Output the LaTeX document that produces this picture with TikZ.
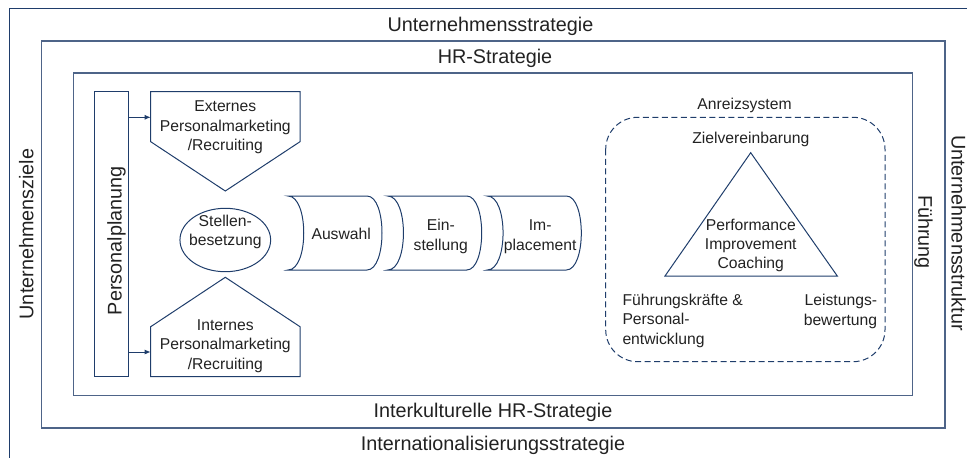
\documentclass[tikz,border=0pt]{standalone}
\usepackage{fontspec}
\setmainfont{Liberation Sans}
\usetikzlibrary{arrows.meta,shapes.geometric}
\definecolor{navy}{HTML}{1F3D6B}
\definecolor{framec}{HTML}{4E6488}
\definecolor{txt}{HTML}{222222}
\newcommand\fBigX{\fontsize{19.8}{24}\selectfont}
\newcommand\fSmallX{\fontsize{15.7}{19.4}\selectfont}
\begin{document}
\begin{tikzpicture}[x=1pt,y=-1pt,
  lbl/.style={inner sep=0pt, text=txt, align=center},
  big/.style={lbl, font=\fBigX},
  sm/.style={lbl, font=\fSmallX},
  shp/.style={draw=navy, line width=1pt},
  frm/.style={draw=framec, line width=1.4pt},
  arr/.style={draw=navy, line width=1pt, -{Latex[length=6pt,width=5pt]}},
  dsh/.style={draw=navy, line width=1pt, dash pattern=on 6pt off 3.5pt, rounded corners=32pt}]
\useasboundingbox (0,0) rectangle (967,458);
% frames
\draw[draw=navy, line width=1pt] (9,470) -- (9,8) -- (980,8);
\draw[frm] (41.5,41) rectangle (945,428);
\draw[frm] (73.3,73) rectangle (912.7,395.7);
\node[big] (t1) at (490.5,26.7) {\strut Unternehmensstrategie};
\node[big] (t2) at (495,58.2) {\strut HR-Strategie};
\node[big] (t3) at (493,412.2) {\strut Interkulturelle HR-Strategie};
\node[big] (t4) at (493,445.7) {\strut Internationalisierungsstrategie};
\node[big, rotate=90] (t5) at (28.5,234) {\strut Unternehmensziele};
\node[big, rotate=-90] (t6) at (956.5,233) {\strut Unternehmensstruktur};
\node[big, rotate=-90] (t7) at (923.1,232) {\strut Führung};
% Personalplanung
\node[shp, minimum width=34.3pt, minimum height=285pt, inner sep=0pt] (pp) at (111.2,234.2) {};
\node[big, rotate=90] (ppt) at (116.9,240.7) {\strut Personalplanung};
% Externes
\draw[shp] (150.7,91.7) -- (300,91.7) -- (300,141.7) -- (225.3,191) -- (150.7,141.7) -- cycle;
\coordinate (extin) at (150.7,117.3);
\node[sm] (ext) at (225.3,127.3) {\strut Externes\\Personalmarketing\\/Recruiting\strut};
\draw[arr] (pp.east |- extin) -- (extin);
% Internes
\draw[shp] (150.7,376.7) -- (300,376.7) -- (300,326.7) -- (225.3,277.3) -- (150.7,326.7) -- cycle;
\coordinate (intin) at (150.7,352);
\node[sm] (int) at (225.3,345.8) {\strut Internes\\Personalmarketing\\/Recruiting\strut};
\draw[arr] (pp.east |- intin) -- (intin);
% Stellenbesetzung
\node[shp, ellipse, minimum width=90.7pt, minimum height=63.4pt, inner sep=0pt] (stb) at (225.3,240) {};
\node[sm] (stbt) at (225.3,231.9) {\strut Stellen-\\besetzung\strut};
% cylinders
\foreach \L in {288,387.7,487.3}{
  \draw[shp] (\L,196) -- (\L+79,196) .. controls (\L+99,196) and (\L+99,270) .. (\L+79,270)
    -- (\L,270) .. controls (\L+21,270) and (\L+21,196) .. (\L,196) -- cycle;
}
\node[sm] (ausw) at (341.2,235.4) {\strut Auswahl};
\node[sm] (einst) at (440.8,236.6) {\strut Ein-\\stellung\strut};
\node[sm] (impl) at (540.2,236.6) {\strut Im-\\placement\strut};
% Anreizsystem
\draw[dsh] (605.7,117.3) rectangle (885,361.7);
\node[sm] (anr) at (744.5,106.1) {\strut Anreizsystem};
\node[sm] (ziel) at (750.8,139.4) {\strut Zielvereinbarung};
\draw[shp] (750.7,152.7) -- (837.3,276) -- (665,276) -- cycle;
\node[sm] (perf) at (750.8,245.6) {\strut Performance\\Improvement\\Coaching\strut};
\node[sm, align=left, anchor=west] (fk) at (622.3,321.1) {\strut Führungskräfte \&\\Personal-\\entwicklung\strut};
\node[sm, align=right, anchor=east] (lb) at (877.3,311.5) {\strut Leistungs-\\bewertung\strut};
\end{tikzpicture}
\end{document}
